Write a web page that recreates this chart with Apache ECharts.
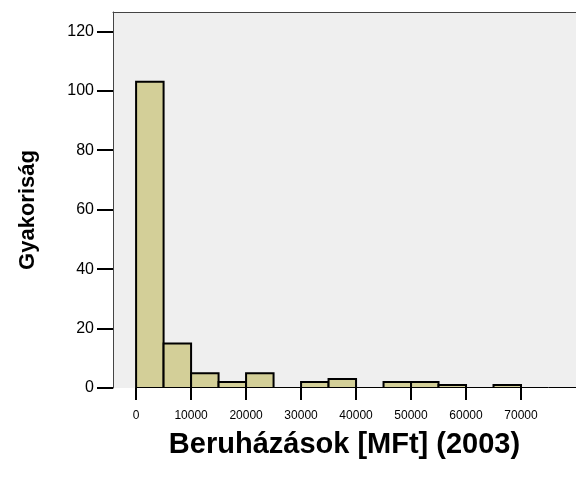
<!DOCTYPE html>
<html>
<head>
<meta charset="utf-8">
<script src="https://cdn.jsdelivr.net/npm/echarts@6/dist/echarts.min.js"></script>
<style>
    html, body { margin: 0; padding: 0; background: #fff; }
    #chart { width: 576px; height: 488px; }
</style>
</head>
<body>
<div id="chart"></div>
<script>
// histogram bins (5000 MFt wide) and counts
var binStart = [0, 5000, 10000, 15000, 20000, 25000, 30000, 35000, 40000, 45000, 50000, 55000, 60000, 65000, 70000, 75000];
var binWidth = 5000;
var counts = [103, 15, 5, 2, 5, 0, 2, 3, 0, 2, 2, 1, 0, 1, 0, 0];
var xTicks = [0, 10000, 20000, 30000, 40000, 50000, 60000, 70000];
var yTicks = [0, 20, 40, 60, 80, 100, 120];

var chart = echarts.init(document.getElementById('chart'), null, { renderer: 'canvas' });

var data = binStart.map(function (s, i) {
    return [s, s + binWidth, counts[i]];
});

var FONT = '"Liberation Sans", Arial, sans-serif';

chart.setOption({
    animation: false,
    backgroundColor: '#ffffff',
    grid: {
        left: 113, right: -9, top: 12, bottom: 100,
        show: true, backgroundColor: '#efefef', borderWidth: 0
    },
    xAxis: [{
        type: 'value',
        min: -4200, max: 80000,
        name: 'Beruházások [MFt] (2003)',
        nameLocation: 'middle',
        nameGap: 42,
        nameTextStyle: { fontFamily: FONT, fontSize: 29, fontWeight: 'bold', color: '#000' },
        axisLine: { show: false, onZero: false },
        splitLine: { show: false },
        axisTick: { show: true, customValues: xTicks, length: 12, lineStyle: { color: '#000', width: 2 } },
        axisLabel: {
            customValues: xTicks, margin: 22, fontFamily: FONT, fontSize: 12, color: '#000',
            formatter: function (v) { return String(v); }
        }
    }, {
        type: 'value',
        position: 'top',
        min: -4200, max: 80000,
        axisLine: { show: true, onZero: false, lineStyle: { color: '#444', width: 1 } },
        axisTick: { show: false },
        axisLabel: { show: false },
        splitLine: { show: false }
    }],
    yAxis: {
        type: 'value',
        min: 0, max: 126.5,
        name: 'Gyakoriság',
        nameLocation: 'middle',
        nameGap: 74,
        nameTextStyle: { fontFamily: FONT, fontSize: 22, fontWeight: 'bold', color: '#000', padding: [0, 20, 0, 0] },
        axisLine: { show: true, onZero: false, lineStyle: { color: '#444', width: 1 } },
        splitLine: { show: false },
        axisTick: { show: true, customValues: yTicks, length: 16, lineStyle: { color: '#000', width: 2 } },
        axisLabel: { customValues: yTicks, margin: 19, fontFamily: FONT, fontSize: 16, color: '#000' }
    },
    series: [{
        type: 'custom',
        xAxisIndex: 0,
        clip: true,
        renderItem: function (params, api) {
            var p0 = api.coord([api.value(0), api.value(2)]);
            var p1 = api.coord([api.value(1), 0]);
            return {
                type: 'rect',
                shape: { x: p0[0], y: p0[1], width: p1[0] - p0[0], height: p1[1] - p0[1] },
                style: { fill: '#d3cf98', stroke: '#000', lineWidth: 2 }
            };
        },
        encode: { x: [0, 1], y: 2 },
        data: data
    }]
});
</script>
</body>
</html>
